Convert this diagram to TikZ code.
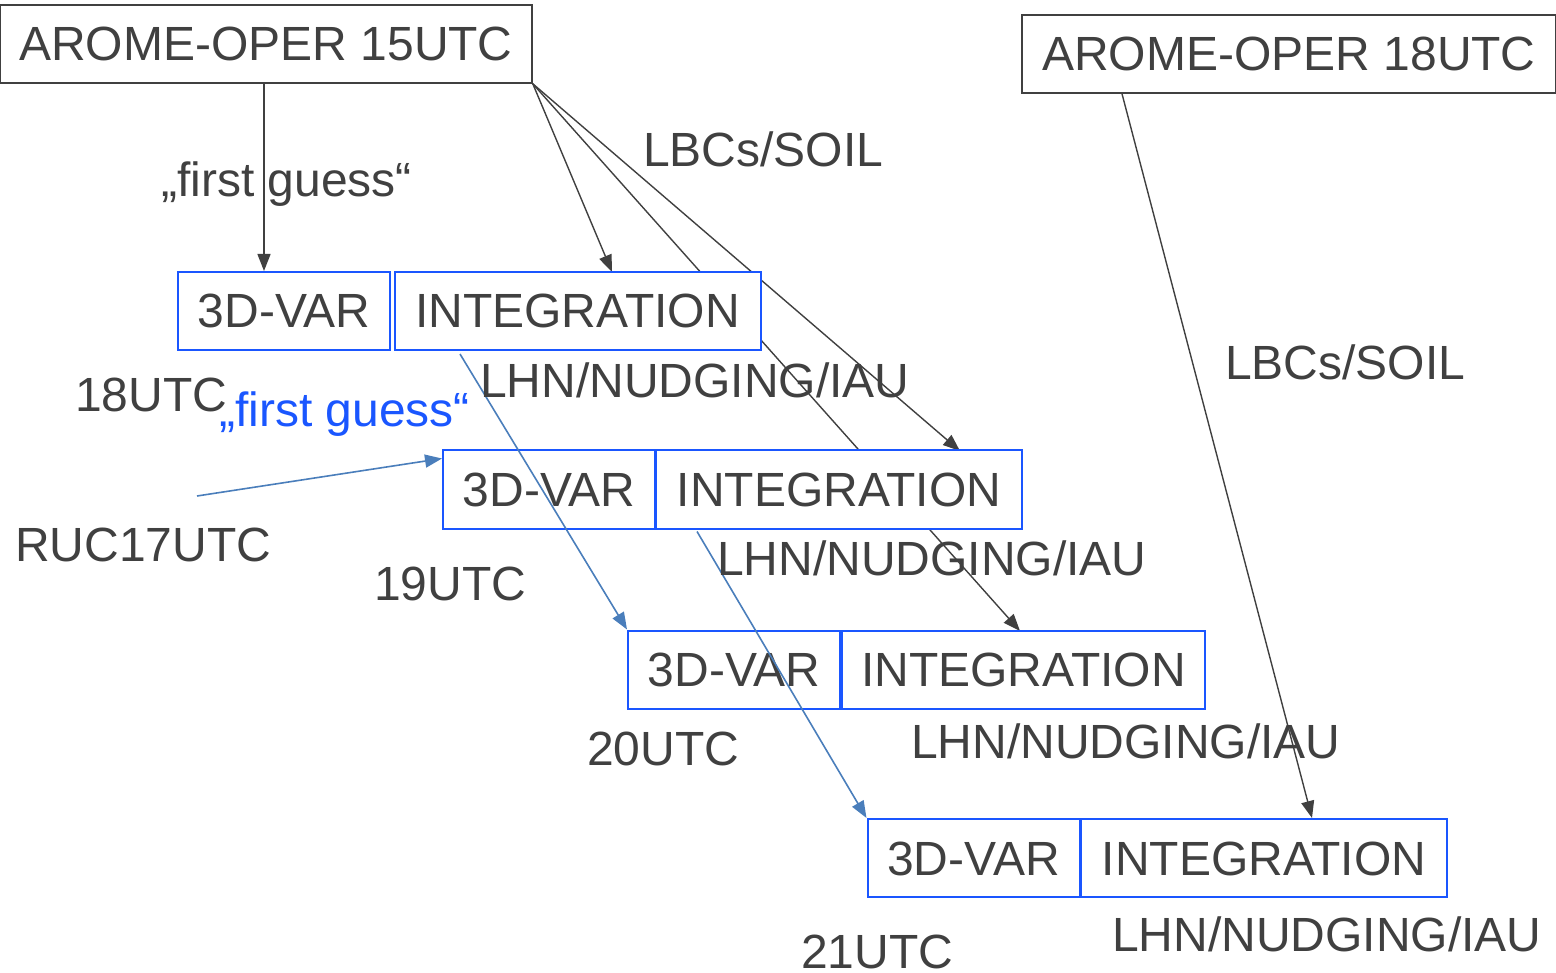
\documentclass[tikz,border=0pt]{standalone}
\usepackage{fontspec}
\setmainfont{Liberation Sans}
\usetikzlibrary{arrows.meta,calc}
\definecolor{txtgray}{HTML}{404040}
\definecolor{boxblue}{HTML}{1A56FF}
\definecolor{arrblue}{HTML}{4A7EBB}
\begin{document}
\begin{tikzpicture}[x=1pt,y=-1pt,
  font=\fontsize{48}{56}\selectfont,
  every node/.style={text=txtgray},
  stagebox/.style={draw=boxblue,line width=2pt,fill=white,inner sep=0pt,
    minimum height=78pt,text height=34pt,text depth=0pt,anchor=center},
  varbox/.style={stagebox,minimum width=212pt},
  intbox/.style={stagebox,minimum width=366pt},
  runbox/.style={draw=txtgray,line width=1.6pt,fill=white,inner sep=0pt,
    minimum height=78pt,text height=34pt,text depth=0pt},
  lbl/.style={inner sep=0pt,anchor=base west},
  grayarr/.style={draw=txtgray,line width=1.4pt,-{Triangle[length=17pt,width=13pt]}},
  bluearr/.style={draw=arrblue,line width=1.6pt,-{Triangle[length=17pt,width=13pt]}}
]
\useasboundingbox (0,0) rectangle (1556,973);

% run boxes
\node[runbox,minimum width=532pt] (a15) at (266,44) {AROME-OPER 15UTC};
\node[runbox,minimum width=534pt] (a18) at (1289,54) {AROME-OPER 18UTC};

% coordinates for stage boxes (centres)
\coordinate (pv1) at (284,311);
\coordinate (pi1) at (577.5,311);
\coordinate (pv2) at (549,489.5);
\coordinate (pi2) at (839,489.5);
\coordinate (pv3) at (734,669.5);
\coordinate (pi3) at (1023.5,669.5);
\coordinate (pv4) at (973.5,858);
\coordinate (pi4) at (1264,858);

% gray connectors that pass behind boxes (drawn first)
\path[grayarr] (a15.south east) -- ($(pi3)+(-3.5,-38.5)$) coordinate (e3);
\path[grayarr] (a15.south east) -- ($(pi2)+(121,-38.5)$) coordinate (e2);
\path[grayarr] (a15.south east) -- ($(pi1)+(34.5,-39)$) coordinate (e1);

% stage boxes
\node[varbox] (v1) at (pv1) {3D-VAR};
\node[intbox] (i1) at (pi1) {INTEGRATION};
\node[varbox] (v2) at (pv2) {3D-VAR};
\node[intbox] (i2) at (pi2) {INTEGRATION};
\node[varbox] (v3) at (pv3) {3D-VAR};
\node[intbox,minimum width=363pt] (i3) at (pi3) {INTEGRATION};
\node[varbox] (v4) at (pv4) {3D-VAR};
\node[intbox] (i4) at (pi4) {INTEGRATION};

% first guess arrow
\coordinate (fgs) at ($(a15.south)+(-2,0)$);
\path[grayarr] (fgs) -- (fgs |- v1.north);
\node[lbl] (fg1) at (161,197) {„first guess“};

% AROME 18 arrow
\path[grayarr] ($(a18.south)+(-167,0)$) -- ($(i4.north)+(48,0)$);

% blue arrows
\coordinate (ruc) at (197,496);
\path[bluearr] (ruc) -- ($(v2.north west)+(0,9)$);
\path[bluearr] ($(i1.south)+(-117.5,3)$) -- (v3.north west);
\path[bluearr] ($(i2.south)+(-142,2)$) -- (v4.north west);

% labels
\node[lbl] (lbc1) at (643,167) {LBCs/SOIL};
\node[lbl] (lbc2) at (1225,380) {LBCs/SOIL};
\node[lbl] (t18) at (75,412) {18UTC};
\node[lbl,text=boxblue] (fg2) at (219,427) {„first guess“};
\node[lbl] (l1) at (480,398) {LHN/NUDGING/IAU};
\node[lbl] (ruct) at (15,561) {RUC17UTC};
\node[lbl] (t19) at (374,600) {19UTC};
\node[lbl] (l2) at (717,575) {LHN/NUDGING/IAU};
\node[lbl] (t20) at (587,765) {20UTC};
\node[lbl] (l3) at (911,758) {LHN/NUDGING/IAU};
\node[lbl] (t21) at (801,968) {21UTC};
\node[lbl] (l4) at (1112,951) {LHN/NUDGING/IAU};
\end{tikzpicture}
\end{document}
